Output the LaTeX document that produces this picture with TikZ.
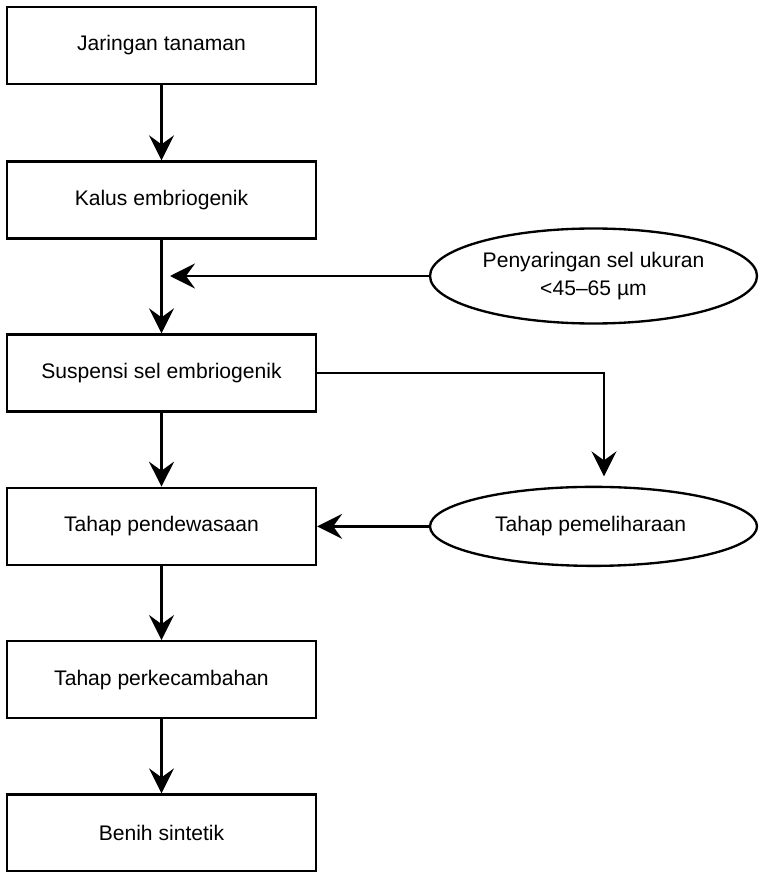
\documentclass[tikz,border=0pt]{standalone}
\usepackage{fontspec}
\setmainfont{Liberation Sans}
\usetikzlibrary{shapes.geometric, arrows.meta, positioning, calc}
\tikzset{
    mainBox/.style={
        rectangle, draw=black, line width=2pt,
        minimum width=9.27cm, minimum height=2.31cm,
        align=center, font=\fontsize{18}{24}\selectfont
    },
    ovalNode/.style={
        ellipse, draw=black, line width=2pt,
        minimum width=9.81cm, inner sep=1pt,
        align=center, font=\fontsize{18}{24}\selectfont
    },
    flowArrow/.style={
        -{Stealth[length=0.75cm, width=0.75cm, inset=0.27cm]},
        line width=2pt, draw=black
    }
}

\begin{document}
\begin{tikzpicture}[node distance=2.22cm]

	\useasboundingbox (0,0) rectangle (22.83,-26.16);

	% =========================================================
	% Main Chain
	% =========================================================

	\node [mainBox] (step1) at (4.845,-1.365) {Jaringan tanaman};

	\node [mainBox, below=2.255cm of step1] (step2) {Kalus embriogenik};

	\node [mainBox, below=2.81cm of step2] (step3) {Suspensi sel embriogenik};

	\node [mainBox, below=of step3] (step4) {Tahap pendewasaan};

	\node [mainBox, below=of step4] (step5) {Tahap perkecambahan};

	\node [mainBox, below=of step5] (step6) {Benih sintetik};

	\foreach \i/\j in {1/2,2/3,3/4,4/5,5/6} {
			\draw [flowArrow] (step\i) -- (step\j);
		}

	% =========================================================
	% Side Steps
	% =========================================================

	\node [ovalNode, minimum height=2.85cm] (filter) at (17.805,-8.28) {
		Penyaringan sel ukuran\\
		<45–65 µm
	};

	\node [ovalNode, minimum height=2.37cm] (upkeep) at (filter |- step4) {
		Tahap pemeliharaan
	};

	\coordinate (join) at ([xshift=0.255cm]step2.south |- filter.west);
	\coordinate (drop) at ([xshift=0.315cm, yshift=0.28cm]upkeep.north);

	\draw [flowArrow] (filter.west) -- (join);
	\draw [flowArrow] (step3.east) -| (drop);
	\draw [flowArrow] (upkeep.west) -- (step4.east);

\end{tikzpicture}
\end{document}
